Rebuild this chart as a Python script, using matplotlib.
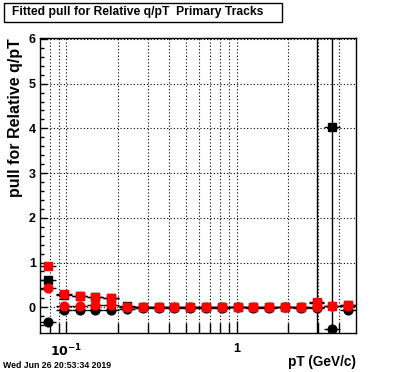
import numpy as np
import matplotlib
matplotlib.use("Agg")
import matplotlib.pyplot as plt
from matplotlib.ticker import FixedLocator, FixedFormatter, MultipleLocator, NullFormatter
from matplotlib.patches import Rectangle

# -------------------------
# Data
# -------------------------
pt = [0.0779, 0.0964, 0.1194, 0.1478, 0.1830, 0.2265, 0.2804, 0.3472, 0.4298, 0.5321,
      0.6587, 0.8155, 1.0096, 1.2498, 1.5473, 1.9155, 2.3714, 2.9358, 3.6346, 4.4996]
bin_lo = [0.0700, 0.0867, 0.1073, 0.1328, 0.1644, 0.2036, 0.2520, 0.3120, 0.3862, 0.4781,
          0.5919, 0.7328, 0.9071, 1.1230, 1.3902, 1.7210, 2.1306, 2.6376, 3.2653, 4.0424]
bin_hi = [0.0867, 0.1073, 0.1328, 0.1644, 0.2036, 0.2520, 0.3120, 0.3862, 0.4781, 0.5919,
          0.7328, 0.9071, 1.1230, 1.3902, 1.7210, 2.1306, 2.6376, 3.2653, 4.0424, 5.0000]

black_sq = [0.61, 0.28, 0.25, 0.23, 0.20, 0.03, 0.01, 0.00, 0.01, 0.00,
            0.00, 0.00, 0.01, 0.00, 0.00, 0.00, 0.00, 0.10, 4.02, 0.04]
black_sq_err = [0.03, 0.02, 0.02, 0.02, 0.02, 0.02, 0.02, 0.02, 0.02, 0.02,
                0.02, 0.02, 0.02, 0.02, 0.02, 0.02, 0.02, 0.05, 9.00, 0.05]
black_ci = [-0.33, -0.06, -0.06, -0.06, -0.06, -0.03, -0.02, -0.01, -0.01, -0.01,
            -0.01, -0.01, 0.00, -0.01, -0.01, 0.00, -0.01, -0.01, -0.48, -0.05]
black_ci_err = [0.03, 0.02, 0.02, 0.02, 0.02, 0.02, 0.02, 0.02, 0.02, 0.02,
                0.02, 0.02, 0.02, 0.02, 0.02, 0.02, 0.02, 0.03, 0.05, 0.03]
red_sq = [0.93, 0.30, 0.26, 0.24, 0.215, 0.01, 0.00, 0.00, 0.01, 0.01,
          0.00, 0.00, 0.01, 0.00, 0.00, 0.00, 0.00, 0.125, 0.03, 0.05]
red_sq_err = [0.03, 0.02, 0.02, 0.02, 0.02, 0.02, 0.02, 0.02, 0.02, 0.02,
              0.02, 0.02, 0.02, 0.02, 0.02, 0.02, 0.02, 9.00, 0.03, 0.03]
red_ci = [0.425, 0.03, 0.03, 0.05, 0.05, 0.00, 0.00, 0.00, 0.00, 0.00,
          0.00, 0.00, 0.00, 0.00, 0.00, 0.00, 0.00, 0.00, 0.02, 0.03]
red_ci_err = [0.03, 0.02, 0.02, 0.02, 0.02, 0.02, 0.02, 0.02, 0.02, 0.02,
              0.02, 0.02, 0.02, 0.02, 0.02, 0.02, 0.02, 0.02, 0.02, 0.02]

x = np.array(pt)
xerr = [x - np.array(bin_lo), np.array(bin_hi) - x]

plt.rcParams["font.family"] = ["Liberation Sans", "DejaVu Sans"]
plt.rcParams["font.weight"] = "bold"
plt.rcParams["mathtext.default"] = "bf"

fig = plt.figure(figsize=(3.96, 3.72), dpi=100)
ax = fig.add_axes([40 / 396, 1 - 333 / 372, 316 / 396, 295 / 372])

series = [
    (black_sq, black_sq_err, "s", "black"),
    (black_ci, black_ci_err, "o", "black"),
    (red_sq, red_sq_err, "s", "red"),
    (red_ci, red_ci_err, "o", "red"),
]
for y, ye, mk, col in series:
    ax.errorbar(x, y, xerr=xerr, yerr=ye, fmt=mk, color=col, ms=6.3,
                mec=col, ecolor="black", elinewidth=1.0, capsize=0, zorder=3)

ax.set_xscale("log")
ax.set_xlim(0.07, 5.0)
ax.set_ylim(-0.575, 6.02)

ax.xaxis.set_major_locator(FixedLocator([0.1, 1.0]))
ax.xaxis.set_major_formatter(FixedFormatter(["$10^{-1}$", "1"]))
ax.xaxis.set_minor_locator(FixedLocator([0.08, 0.09, 0.2, 0.3, 0.4, 0.5, 0.6, 0.7, 0.8, 0.9, 2, 3, 4]))
ax.xaxis.set_minor_formatter(NullFormatter())
ax.yaxis.set_major_locator(MultipleLocator(1))
ax.yaxis.set_minor_locator(MultipleLocator(0.2))

ax.tick_params(axis="x", which="major", direction="in", length=9, width=1, pad=7, labelsize=9)
ax.tick_params(axis="x", which="minor", direction="in", length=7, width=1)
ax.tick_params(axis="y", which="major", direction="in", length=5, width=1, pad=3, labelsize=9)
ax.tick_params(axis="y", which="minor", direction="in", length=3, width=1)
for lab in ax.get_xticklabels() + ax.get_yticklabels():
    lab.set_fontweight("bold")

ax.grid(True, axis="x", which="both", color="black", linestyle=(0, (1, 2)), linewidth=0.8)
ax.grid(True, axis="y", which="major", color="black", linestyle=(0, (1, 2)), linewidth=0.8)
ax.set_axisbelow(True)
for s in ax.spines.values():
    s.set_linewidth(1.0)

# title box
fig.patches.append(Rectangle((4 / 396, 1 - 22 / 372), 278 / 396, 19 / 372,
                             transform=fig.transFigure, fill=False, edgecolor="black", lw=1))
fig.text(138 / 396, 1 - 12.5 / 372, "Fitted pull for Relative q/pT  Primary Tracks",
         ha="center", va="center", fontsize=8.7, fontweight="bold")

fig.text(16 / 396, 1 - 38 / 372, "pull for Relative q/pT", rotation=90,
         ha="center", va="top", fontsize=11.5, fontweight="bold")
fig.text(356 / 396, 1 - 362 / 372, "pT (GeV/c)", ha="right", va="center",
         fontsize=9.8, fontweight="bold")
fig.text(3 / 396, 1 - 365.5 / 372, "Wed Jun 26 20:53:34 2019", ha="left", va="center",
         fontsize=6.3, fontweight="bold")

fig.savefig("out.png", dpi=100)
